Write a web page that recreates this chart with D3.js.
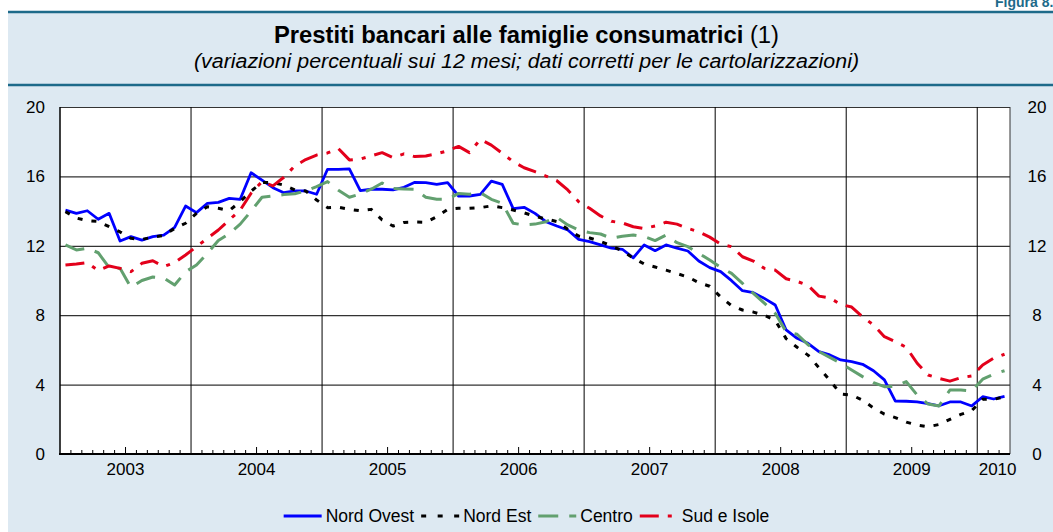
<!DOCTYPE html>
<html>
<head>
<meta charset="utf-8">
<script src="https://cdn.jsdelivr.net/npm/d3@7"></script>
<style>
  body { margin: 0; background: #fff; }
  text { font-family: "Liberation Sans", Arial, Helvetica, sans-serif; }
</style>
</head>
<body>
<div id="main"></div>
<script>
// tick labels / categories
const years = ["2003", "2004", "2005", "2006", "2007", "2008", "2009", "2010"];
const monthsPerYear = [12, 12, 12, 12, 12, 12, 12, 3];
const yTicks = [0, 4, 8, 12, 16, 20];
const seriesNames = ["Nord Ovest", "Nord Est", "Centro", "Sud e Isole"];

// monthly values, Jan 2003 - Mar 2010
const nordOvest = [
  14.06, 13.87, 14.02, 13.53, 13.87, 12.28, 12.53, 12.33, 12.53, 12.62, 13.06, 14.29,
  13.91, 14.45, 14.50, 14.73, 14.68, 16.21, 15.79, 15.35, 15.06, 15.16, 15.16, 14.97,
  16.41, 16.41, 16.43, 15.18, 15.26, 15.26, 15.22, 15.37, 15.66, 15.64, 15.54, 15.64,
  14.87, 14.87, 14.97, 15.73, 15.54, 14.14, 14.22, 13.87, 13.39, 13.14, 12.91, 12.37,
  12.24, 12.05, 11.86, 11.80, 11.31, 12.05, 11.72, 12.05, 11.86, 11.70, 11.12, 10.74,
  10.51, 9.99, 9.41, 9.30, 8.97, 8.59, 7.15, 6.67, 6.38, 5.90, 5.71, 5.42,
  5.32, 5.17, 4.80, 4.27, 3.05, 3.04, 3.00, 2.90, 2.78, 3.00, 3.00, 2.77,
  3.30, 3.17, 3.32
];
const nordEst = [
  13.97, 13.60, 13.45, 13.40, 13.10, 12.80, 12.43, 12.37, 12.50, 12.60, 13.00, 13.30,
  13.87, 14.25, 14.16, 14.02, 14.55, 15.15, 15.65, 15.65, 15.50, 15.22, 15.16, 14.64,
  14.20, 14.22, 14.10, 14.02, 14.10, 13.49, 13.14, 13.35, 13.37, 13.35, 13.68, 14.10,
  14.16, 14.16, 14.20, 14.30, 14.20, 14.06, 13.90, 13.70, 13.55, 13.40, 12.95, 12.56,
  12.45, 12.25, 12.00, 11.70, 11.30, 10.95, 10.78, 10.60, 10.40, 10.20, 9.88, 9.67,
  9.05, 8.55, 8.30, 8.18, 8.00, 7.70, 6.65, 6.15, 5.70, 4.98, 4.25, 3.46,
  3.40, 3.10, 2.65, 2.30, 2.10, 1.84, 1.67, 1.57, 1.70, 2.00, 2.28, 2.50,
  3.15, 3.15, 3.30
];
const centro = [
  12.05, 11.76, 11.86, 11.60, 10.74, 10.70, 9.60, 10.00, 10.20, 10.15, 9.74, 10.50,
  10.89, 11.57, 12.30, 12.70, 13.25, 14.00, 14.80, 14.88, 14.95, 15.00, 15.16, 15.41,
  15.70, 15.20, 14.80, 14.99, 15.26, 15.62, 15.31, 15.28, 15.26, 14.80, 14.68, 14.68,
  15.02, 14.97, 15.06, 14.68, 14.45, 13.30, 13.20, 13.25, 13.39, 13.64, 13.20, 12.91,
  12.76, 12.68, 12.43, 12.55, 12.62, 12.53, 12.30, 12.62, 12.18, 11.95, 11.57, 11.18,
  10.76, 10.41, 9.84, 9.26, 8.70, 8.11, 7.05, 6.90, 6.30, 5.90, 5.57, 5.23,
  4.84, 4.46, 4.11, 3.88, 3.90, 4.17, 3.40, 2.88, 2.77, 3.69, 3.69, 3.63,
  4.31, 4.60, 4.80
];
const sudIsole = [
  10.89, 10.95, 11.03, 10.57, 10.84, 10.70, 10.51, 10.99, 11.14, 10.80, 11.03, 11.47,
  11.95, 12.43, 12.91, 13.49, 14.06, 15.03, 15.70, 15.45, 15.95, 16.60, 16.97, 17.23,
  17.35, 17.60, 16.95, 17.00, 17.18, 17.37, 17.08, 17.30, 17.14, 17.18, 17.30, 17.48,
  17.73, 17.37, 18.14, 17.80, 17.33, 16.85, 16.50, 16.27, 16.02, 15.75, 15.22, 14.54,
  14.16, 13.72, 13.41, 13.32, 13.10, 13.00, 13.14, 13.36, 13.25, 13.00, 12.81, 12.50,
  12.10, 11.95, 11.37, 11.12, 10.70, 10.60, 10.10, 9.95, 9.72, 9.10, 9.00, 8.62,
  8.47, 7.90, 7.44, 6.76, 6.47, 6.15, 5.23, 4.55, 4.36, 4.20, 4.40, 4.50,
  5.13, 5.52, 5.75
];

const ctx = {
  w: 1053, h: 532,
  left: 60, right: 1010, top: 107, bottom: 454,
  bg: "#dde9f2", rule: "#1d6a8a",
};

const styles = [
  {color: "#0000ff", width: 2.8, dash: null},
  {color: "#000000", width: 3, dash: "5,9"},
  {color: "#62a06f", width: 3, dash: "20,11"},
  {color: "#e3001b", width: 3, dash: "19,9,4,9"},
];

function initFrame(svg){
  svg.append("rect").attr("width", ctx.w).attr("height", ctx.h).attr("fill", "#fff");
  svg.append("rect").attr("x", 8).attr("y", 12).attr("width", ctx.w - 8).attr("height", ctx.h - 12)
     .attr("fill", ctx.bg);
  // "Figura" label cut off at the top
  svg.append("text").attr("x", 995).attr("y", 7).attr("font-size", 14).attr("font-weight", "bold")
     .attr("fill", ctx.rule).text("Figura 8.");
  // rules of the title band
  [12, 85].forEach(y => {
    svg.append("line").attr("x1", 8).attr("x2", ctx.w).attr("y1", y).attr("y2", y)
       .attr("stroke", ctx.rule).attr("stroke-width", 2.5);
  });
  let title = svg.append("text").attr("x", ctx.w / 2).attr("y", 43).attr("text-anchor", "middle")
     .attr("font-size", 23).attr("textLength", 505).attr("lengthAdjust", "spacingAndGlyphs");
  title.append("tspan").attr("font-weight", "bold").text("Prestiti bancari alle famiglie consumatrici");
  title.append("tspan").text(" (1)");
  svg.append("text").attr("x", ctx.w / 2).attr("y", 68).attr("text-anchor", "middle")
     .attr("font-size", 20).attr("font-style", "italic")
     .attr("textLength", 665).attr("lengthAdjust", "spacingAndGlyphs")
     .text("(variazioni percentuali sui 12 mesi; dati corretti per le cartolarizzazioni)");
}

function initAxes(svg){
  const months = d3.range(nordOvest.length);
  ctx.x = d3.scaleBand().domain(months).range([ctx.left, ctx.right]).padding(0);
  ctx.y = d3.scaleLinear().domain([0, 20]).range([ctx.bottom, ctx.top]);
  const bw = ctx.x.bandwidth();

  svg.append("rect").attr("x", ctx.left).attr("y", ctx.top)
     .attr("width", ctx.right - ctx.left).attr("height", ctx.bottom - ctx.top).attr("fill", "#fff");

  // horizontal grid
  svg.append("g").attr("transform", `translate(${ctx.left},0)`)
     .call(d3.axisLeft(ctx.y).tickValues(yTicks.slice(1)).tickSize(-(ctx.right - ctx.left)).tickFormat(""))
     .call(g => g.select(".domain").remove())
     .selectAll("line").attr("stroke", "#333").attr("stroke-width", 1.2);

  // year boundaries
  let start = 0;
  const yearStarts = [];
  monthsPerYear.forEach(n => { yearStarts.push(start); start += n; });
  svg.append("g").selectAll("line").data(yearStarts.slice(1)).join("line")
     .attr("x1", d => ctx.x(d)).attr("x2", d => ctx.x(d))
     .attr("y1", ctx.top).attr("y2", ctx.bottom)
     .attr("stroke", "#000").attr("stroke-width", 1);

  // monthly ticks inside the plot
  svg.append("g").selectAll("line").data(months.filter(m => m > 0 && m % 12 !== 0)).join("line")
     .attr("x1", d => ctx.x(d)).attr("x2", d => ctx.x(d))
     .attr("y1", ctx.bottom).attr("y2", d => ctx.bottom - (d % 12 === 6 ? 7 : 4))
     .attr("stroke", "#000").attr("stroke-width", 1);

  // frame
  svg.append("line").attr("x1", ctx.right).attr("x2", ctx.right).attr("y1", ctx.top).attr("y2", ctx.bottom)
     .attr("stroke", "#333").attr("stroke-width", 1);
  svg.append("line").attr("x1", ctx.left).attr("x2", ctx.left).attr("y1", ctx.top).attr("y2", ctx.bottom)
     .attr("stroke", "#000").attr("stroke-width", 1.5);
  svg.append("line").attr("x1", ctx.left - 1).attr("x2", ctx.right).attr("y1", ctx.bottom).attr("y2", ctx.bottom)
     .attr("stroke", "#000").attr("stroke-width", 2);

  // y labels, both sides
  svg.append("g").attr("transform", `translate(${ctx.left},0)`)
     .call(d3.axisLeft(ctx.y).tickValues(yTicks).tickSize(0).tickPadding(15))
     .call(g => g.select(".domain").remove())
     .attr("font-family", null).attr("font-size", 17)
     .selectAll("text").attr("fill", "#000");
  svg.append("g").attr("transform", `translate(${ctx.right},0)`)
     .call(d3.axisRight(ctx.y).tickValues(yTicks).tickSize(0).tickPadding(27))
     .call(g => g.select(".domain").remove())
     .attr("font-family", null).attr("font-size", 17).attr("text-anchor", "middle")
     .selectAll("text").attr("fill", "#000");

  // year labels, centred on each year's months
  svg.append("g").selectAll("text").data(years).join("text")
     .attr("x", (d, i) => (ctx.x(yearStarts[i]) + ctx.x(yearStarts[i] + monthsPerYear[i] - 1) + bw) / 2 + (monthsPerYear[i] < 12 ? 4 : 0))
     .attr("y", 475).attr("text-anchor", "middle").attr("font-size", 17)
     .text(d => d);
}

function drawSeries(svg){
  const bw = ctx.x.bandwidth();
  const line = d3.line().x((d, i) => ctx.x(i) + bw / 2).y(d => ctx.y(d));
  const data = [nordOvest, nordEst, centro, sudIsole];
  svg.append("g").selectAll("path").data(data).join("path")
     .attr("d", d => line(d))
     .attr("fill", "none")
     .attr("stroke", (d, i) => styles[i].color)
     .attr("stroke-width", (d, i) => styles[i].width)
     .attr("stroke-dasharray", (d, i) => styles[i].dash)
     .attr("stroke-linejoin", "round");
}

function drawLegend(svg){
  const lg = svg.append("g");
  let xPos = 0;
  seriesNames.forEach((name, i) => {
    lg.append("line").attr("x1", xPos).attr("x2", xPos + 38).attr("y1", 516).attr("y2", 516)
      .attr("stroke", styles[i].color).attr("stroke-width", styles[i].width)
      .attr("stroke-dasharray", i === 1 ? "5,11.5" : styles[i].dash);
    let t = lg.append("text").attr("x", xPos + 42).attr("y", 522).attr("font-size", 17.5).text(name);
    xPos += 42 + t.node().getComputedTextLength() + 7;
  });
  const total = xPos - 7;
  lg.attr("transform", `translate(${ctx.w / 2 - total / 2},0)`);
}

function createViz(){
  let svg = d3.select("#main").append("svg").attr("width", ctx.w).attr("height", ctx.h);
  initFrame(svg);
  initAxes(svg);
  drawSeries(svg);
  drawLegend(svg);
}

createViz();
</script>
</body>
</html>
